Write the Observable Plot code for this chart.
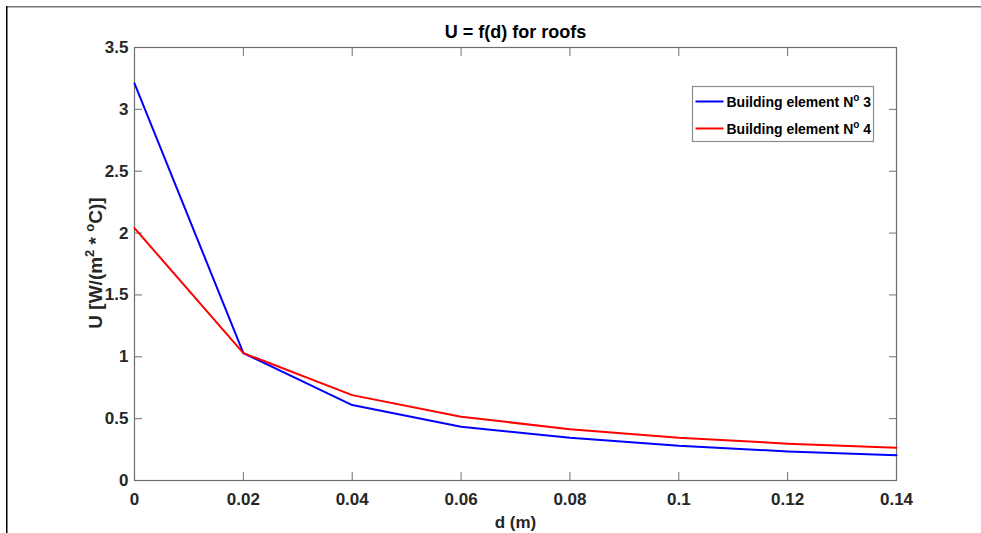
<!DOCTYPE html>
<html>
<head>
<meta charset="utf-8">
<script src="https://cdn.jsdelivr.net/npm/d3@7"></script>
<script src="https://cdn.jsdelivr.net/npm/@observablehq/plot@0.6"></script>
<style>
  html, body { margin: 0; padding: 0; background: #fff; overflow: hidden; }
  #chart { width: 981px; height: 533px; }
  #chart svg { display: block; }
</style>
</head>
<body>
<div id="chart"></div>
<script>
// ---- data ----
const thickness = [0, 0.02, 0.04, 0.06, 0.08, 0.10, 0.12, 0.14];           // d (m)
const uElement3 = [3.21, 1.03, 0.61, 0.435, 0.345, 0.28, 0.235, 0.205];     // Building element N° 3
const uElement4 = [2.04, 1.03, 0.69, 0.515, 0.415, 0.345, 0.298, 0.265];   // Building element N° 4
const seriesNames = ["Building element N° 3", "Building element N° 4"];
const seriesColors = ["#0000ff", "#ff0000"];
const xTicks = [0, 0.02, 0.04, 0.06, 0.08, 0.10, 0.12, 0.14];
const xTickLabels = ["0", "0.02", "0.04", "0.06", "0.08", "0.1", "0.12", "0.14"];
const yTicks = [0, 0.5, 1, 1.5, 2, 2.5, 3, 3.5];
const yTickLabels = ["0", "0.5", "1", "1.5", "2", "2.5", "3", "3.5"];
const titleText = "U = f(d) for roofs";
const xLabelText = "d (m)";

const rows = [];
thickness.forEach((d, i) => {
  rows.push({d, u: uElement3[i], series: seriesNames[0]});
  rows.push({d, u: uElement4[i], series: seriesNames[1]});
});

const FONT = "'Liberation Sans Narrow', 'Arial Narrow', 'Liberation Sans', Arial, sans-serif";
const AX = "#6e6e6e";
const TXT = "#262626";

const xFmt = d => xTickLabels[xTicks.indexOf(d)];
const yFmt = d => yTickLabels[yTicks.indexOf(d)];

const svg = Plot.plot({
  width: 981,
  height: 533,
  marginLeft: 134,
  marginRight: 85,
  marginTop: 47,
  marginBottom: 53,
  style: {background: "#fff", fontFamily: FONT, fontSize: "17px", fontWeight: "bold", color: TXT},
  x: {domain: [0, 0.14], label: null},
  y: {domain: [0, 3.5], label: null},
  color: {domain: seriesNames, range: seriesColors},
  marks: [
    // inward ticks on all four sides
    Plot.axisX(xTicks, {anchor: "bottom", tickSize: -8, tickFormat: () => "", stroke: AX, label: null}),
    Plot.axisX(xTicks, {anchor: "top", tickSize: -8, tickFormat: () => "", stroke: AX, label: null}),
    Plot.axisY(yTicks, {anchor: "left", tickSize: -8, tickFormat: () => "", stroke: AX, label: null}),
    Plot.axisY(yTicks, {anchor: "right", tickSize: -8, tickFormat: () => "", stroke: AX, label: null}),
    // tick labels
    Plot.axisX(xTicks, {anchor: "bottom", tickSize: 0, tickPadding: 12, tickFormat: xFmt, label: null, fill: TXT, fontSize: 17}),
    Plot.axisY(yTicks, {anchor: "left", tickSize: 0, tickPadding: 6, tickFormat: yFmt, label: null, fill: TXT, fontSize: 17}),
    Plot.frame({stroke: AX, strokeWidth: 1.2}),
    Plot.line(rows, {x: "d", y: "u", z: "series", stroke: "series", strokeWidth: 2}),
    Plot.text([titleText], {frameAnchor: "top", lineAnchor: "middle", dy: -15, fontSize: 18, fontWeight: "bold", fill: "#000"}),
    Plot.text([xLabelText], {frameAnchor: "bottom", lineAnchor: "middle", dy: 42, fontSize: 17, fontWeight: "bold", fill: TXT})
  ]
});
document.getElementById("chart").appendChild(svg);

const s = d3.select(svg);

// outer border of the screenshot
s.append("rect").attr("x", 6).attr("y", 6).attr("width", 975).attr("height", 1.5).attr("fill", "#777");
s.append("rect").attr("x", 6).attr("y", 6).attr("width", 1.5).attr("height", 527).attr("fill", "#000");

// y axis label with superscripts
const yl = s.append("text")
  .attr("transform", "translate(102,263) rotate(-90)")
  .attr("text-anchor", "middle")
  .style("font-family", "'Liberation Sans', Arial, sans-serif")
  .style("font-size", "19px").style("font-weight", "bold").attr("fill", TXT);
yl.append("tspan").text("U [W/(m");
yl.append("tspan").attr("dy", -8).style("font-size", "13px").text("2");
yl.append("tspan").attr("dy", 8).text(" * ");
yl.append("tspan").attr("dy", -8).style("font-size", "13px").text("o");
yl.append("tspan").attr("dy", 8).text("C)]");

// legend
const lg = s.append("g").attr("transform", "translate(692.5,86.5)");
lg.append("rect").attr("width", 181).attr("height", 55)
  .attr("fill", "#fff").attr("stroke", "#8c8c8c").attr("stroke-width", 1.2);
seriesNames.forEach((name, i) => {
  const y = 15 + i * 27;
  lg.append("line").attr("x1", 3).attr("x2", 31).attr("y1", y).attr("y2", y)
    .attr("stroke", seriesColors[i]).attr("stroke-width", 2);
  const t = lg.append("text").attr("x", 34).attr("y", y).attr("dy", "0.36em")
    .attr("text-anchor", "start")
    .style("font-family", FONT).style("font-size", "14px").style("font-weight", "bold").attr("fill", "#000");
  const parts = name.split("°");
  t.append("tspan").text(parts[0].replace(/\s$/, ""));
  t.append("tspan").attr("dy", -6).style("font-size", "10px").text("o");
  t.append("tspan").attr("dy", 6).text(parts[1]);
});
</script>
</body>
</html>
